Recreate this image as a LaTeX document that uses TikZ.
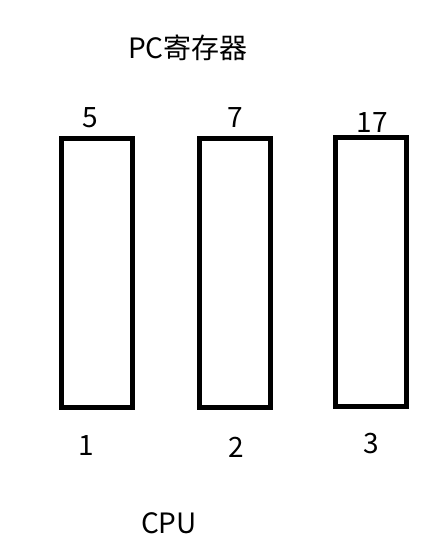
\documentclass[tikz,border=0pt]{standalone}
\usepackage{fontspec}
\setmainfont{Noto Sans CJK SC}
\tikzset{
  regbox/.style={   % one register slot
    draw=black, line width=3.75pt, fill=white,
    minimum width=52.9pt, minimum height=201.75pt, inner sep=0pt
  },
  numlbl/.style={   % numbers above / below the slots
    font=\fontsize{21pt}{25pt}\selectfont, inner sep=0pt
  },
  ttl/.style={      % captions
    font=\fontsize{21pt}{25pt}\selectfont, inner sep=0pt
  },
}
\begin{document}
\begin{tikzpicture}[x=0.75pt, y=-0.75pt]

\useasboundingbox (0,0) rectangle (437,551);

%% title
\node[ttl] (pc) at (188, 48) {PC寄存器};

%% register slots
\node[regbox] (r1) at ( 96.75, 273) {};
\node[regbox] (r2) at (234.75, 273) {};
\node[regbox] (r3) at (370.75, 272) {};

%% stored values
\node[numlbl] (v1) at ( 90.5, 118) {5};
\node[numlbl] (v2) at (235,   118) {7};
\node[numlbl] (v3) at (372,   122.5) {17};

%% slot numbers
\node[numlbl] (n1) at ( 86.5, 446) {1};
\node[numlbl] (n2) at (236.5, 447) {2};
\node[numlbl] (n3) at (371.5, 444) {3};

%% bottom caption
\node[ttl] (cpu) at (169, 523) {CPU};

\end{tikzpicture}
\end{document}
